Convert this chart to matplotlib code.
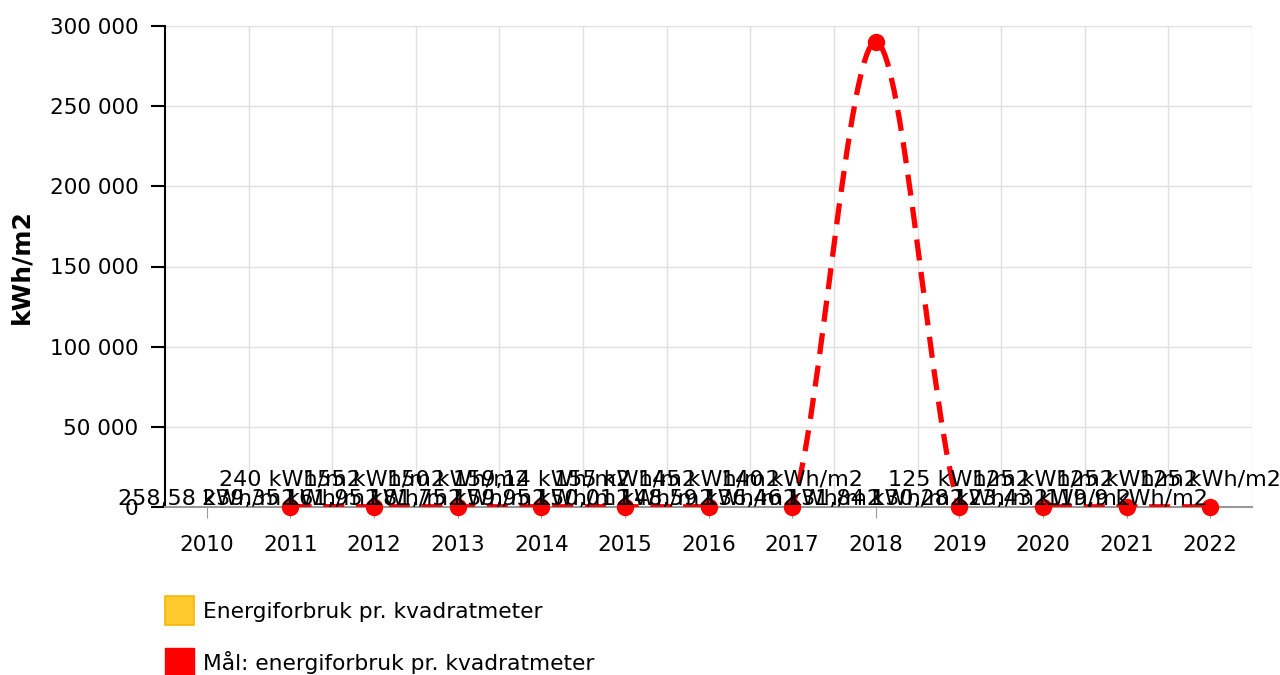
import numpy as np
import matplotlib
matplotlib.use("Agg")
from matplotlib import pyplot as plt
from matplotlib.path import Path
from matplotlib.patches import PathPatch, Patch

# data
aar = ["2010", "2011", "2012", "2013", "2014", "2015", "2016",
       "2017", "2018", "2019", "2020", "2021", "2022"]
forbruk = [258.58, 239.35, 161.95, 181.75, 159.95, 150.01, 148.59,
           136.46, 131.84, 130.28, 123.43, 119.9]          # 2010-2021
maal = [240, 155, 150, 159.14, 155, 145, 140,
        290000, 125, 125, 125, 125]                      # 2011-2022
maal_uten_etikett = ["2018"]   # label not shown in the original

gul = "#FFCA2E"
gul_kant = "#F2B705"
rod = "#FF0000"

plt.rcParams["font.family"] = ["DejaVu Sans"]

fig = plt.figure(figsize=(12.8, 6.75), dpi=100)
ax = fig.add_axes([165/1280, 1-507/675, (1252-165)/1280, (507-26)/675])

x_bar = np.arange(len(forbruk))
x_maal = np.arange(1, len(maal)+1)

ax.bar(x_bar, forbruk, width=0.6, color=gul, edgecolor=gul_kant, linewidth=0, zorder=2)

# smooth dashed line through the target points (cardinal spline as bezier path)
verts = [(x_maal[0], maal[0])]
codes = [Path.MOVETO]
n = len(maal)
for i in range(n-1):
    m0 = (maal[i+1] - maal[i-1]) / 2 if i > 0 else 0
    m1 = (maal[i+2] - maal[i]) / 2 if i+2 < n else 0
    verts += [(x_maal[i]+1/3, maal[i]+m0/3),
              (x_maal[i+1]-1/3, maal[i+1]-m1/3),
              (x_maal[i+1], maal[i+1])]
    codes += [Path.CURVE4]*3
ax.add_patch(PathPatch(Path(verts, codes), fill=False, edgecolor=rod, lw=3.8,
                       linestyle=(0, (4, 2.2)), zorder=3, capstyle="butt"))
ax.plot(x_maal, maal, "o", color=rod, ms=11.5, zorder=4, clip_on=False)

# data labels
for x, v in zip(x_bar, forbruk):
    ax.annotate(f"{v:g} kWh/m2".replace(".", ","), (x, v), xytext=(0, 1.5),
                textcoords="offset points", ha="center", va="baseline",
                fontsize=16, zorder=5, annotation_clip=False)
for x, v in zip(x_maal, maal):
    if aar[x] in maal_uten_etikett:
        continue
    ax.annotate(f"{v:g} kWh/m2".replace(".", ","), (x, v), xytext=(0, 15),
                textcoords="offset points", ha="center", va="baseline",
                fontsize=16, zorder=5, annotation_clip=False)

# axes
ax.set_xlim(-0.5, len(aar)-0.5)
ax.set_ylim(0, 300000)
ax.set_xticks(range(len(aar)))
ax.set_xticklabels(aar)
yt = np.arange(0, 300001, 50000)
ax.set_yticks(yt)
ax.set_yticklabels([f"{v:,}".replace(",", " ") for v in yt])
ax.set_xticks(np.arange(0.5, len(aar)), minor=True)
ax.tick_params(axis="x", which="major", length=8, color="#999999", pad=12, labelsize=15.5)
ax.tick_params(axis="x", which="minor", length=0)
ax.tick_params(axis="y", length=10, width=1.5, color="black", pad=9, labelsize=15.5)
ax.grid(axis="y", color="#e0e0e0", lw=1)
ax.grid(axis="x", which="minor", color="#e0e0e0", lw=1)
ax.set_axisbelow(True)
for s in ["top", "right"]:
    ax.spines[s].set_visible(False)
ax.spines["left"].set_linewidth(1.5)
ax.spines["bottom"].set_color("#999999")
ax.spines["bottom"].set_linewidth(1.5)
ax.set_ylabel("kWh/m2", fontsize=18, fontweight="bold")
ax.yaxis.set_label_coords(-132/1087, 0.5)

handles = [Patch(facecolor=gul, edgecolor=gul_kant, lw=1.2),
           Patch(facecolor=rod, edgecolor=rod)]
fig.legend(handles, ["Energiforbruk pr. kvadratmeter", "Mål: energiforbruk pr. kvadratmeter"],
           loc="upper left", bbox_to_anchor=(165/1280, 1-596/675), frameon=False,
           fontsize=15.7, handlelength=1.33, handleheight=1.68, handletextpad=0.4,
           labelspacing=1.05, borderpad=0, borderaxespad=0)

fig.savefig("out.png", dpi=100)
